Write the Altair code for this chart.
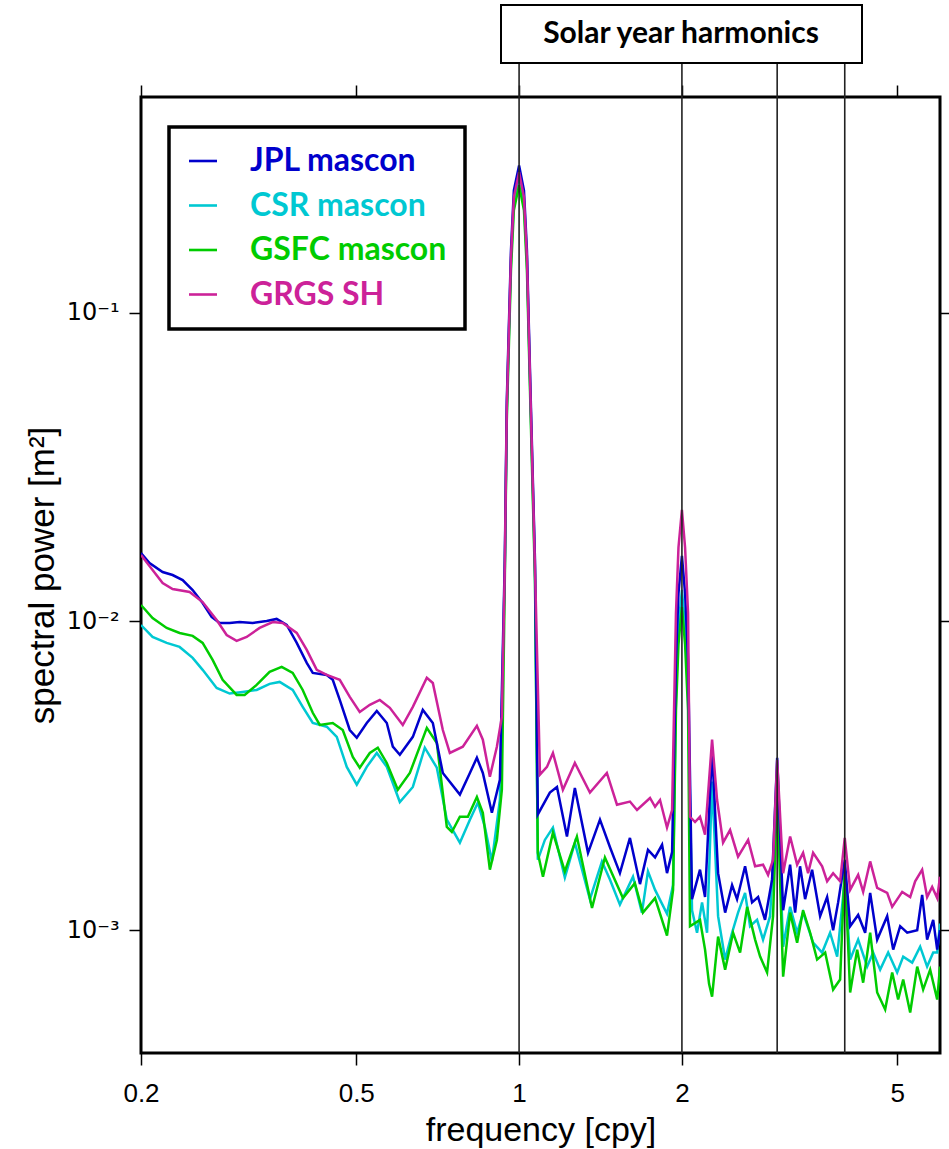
import altair as alt
import pandas as pd

# ---------------- data ----------------
jpl_freq = [0.200, 0.2074, 0.2193, 0.2288, 0.2388, 0.2492, 0.2600, 0.2701, 0.2795, 0.2917,
            0.3043, 0.3217, 0.3415, 0.3563, 0.3719, 0.3881, 0.4050, 0.4155, 0.4410, 0.4524,
            0.4661, 0.4864, 0.5011, 0.5229, 0.5457, 0.5694, 0.5842, 0.6019, 0.6362, 0.6637,
            0.6927, 0.7228, 0.7772, 0.8111, 0.8356, 0.8570, 0.8907, 0.9215,
            0.941, 0.949, 0.966, 0.978, 1.0, 1.021, 1.034, 1.051, 1.070,
            1.083, 1.140, 1.175, 1.226, 1.268, 1.341, 1.411, 1.472, 1.536, 1.603,
            1.673, 1.731, 1.784, 1.838, 1.877, 1.918,
            1.950, 1.971, 2.0, 2.027, 2.053,
            2.088, 2.160, 2.207, 2.274, 2.333, 2.404, 2.476, 2.529, 2.617, 2.696,
            2.766, 2.849, 2.936, 3.0, 3.077, 3.170, 3.238, 3.307, 3.379, 3.481,
            3.602, 3.711, 3.807, 3.889, 4.0, 4.093, 4.235, 4.363, 4.457, 4.592,
            4.792, 4.916, 5.064, 5.218, 5.445, 5.561, 5.680, 5.829, 5.929, 6.0]
jpl_power = [0.01666, 0.01546, 0.01446, 0.01414, 0.01362, 0.01264, 0.01148, 0.01034, 0.00989, 0.00989,
             0.00996, 0.00989, 0.01004, 0.01019, 0.00974, 0.00852, 0.00734, 0.00681, 0.00671, 0.00647,
             0.00557, 0.00445, 0.00420, 0.00469, 0.00513, 0.00469, 0.00393, 0.00370, 0.00423, 0.00517,
             0.00469, 0.00323, 0.00275, 0.00323, 0.00362, 0.00323, 0.00240, 0.00307,
             0.0158, 0.052, 0.159, 0.249, 0.300, 0.249, 0.159, 0.052, 0.0158,
             0.00237, 0.00279, 0.00291, 0.00201, 0.00289, 0.00178, 0.00228, 0.00186, 0.00153, 0.00199,
             0.00141, 0.00182, 0.00172, 0.00189, 0.00153, 0.00179,
             0.00755, 0.01236, 0.0163, 0.01236, 0.00755,
             0.00126, 0.00157, 0.00128, 0.00384, 0.00153, 0.00114, 0.00140, 0.00126, 0.00161, 0.00123,
             0.00128, 0.00108, 0.00146, 0.00362, 0.00116, 0.00163, 0.00114, 0.00161, 0.00126, 0.00157,
             0.00111, 0.00128, 0.00100, 0.00123, 0.00169, 0.00103, 0.00112, 0.000981, 0.00132, 0.000932,
             0.00111, 0.000865, 0.00103, 0.000981, 0.00100, 0.00130, 0.000932, 0.00108, 0.000865, 0.00100]

csr_freq = [0.200, 0.2101, 0.2231, 0.2357, 0.2492, 0.2600, 0.2760, 0.2917, 0.3083, 0.3272,
            0.3458, 0.3609, 0.3815, 0.3981, 0.4155, 0.4410, 0.4602, 0.4802, 0.5011, 0.5229,
            0.5457, 0.5694, 0.6019, 0.6362, 0.6694, 0.7046, 0.7352, 0.7772, 0.8111, 0.8392,
            0.8644, 0.8907, 0.9215,
            0.941, 0.949, 0.966, 0.978, 1.0, 1.021, 1.034, 1.051, 1.070,
            1.083, 1.116, 1.155, 1.215, 1.268, 1.352, 1.423, 1.472, 1.536, 1.624,
            1.687, 1.731, 1.784, 1.877, 1.926,
            1.950, 1.971, 2.0, 2.027, 2.053,
            2.088, 2.133, 2.179, 2.226, 2.274, 2.333, 2.404, 2.476, 2.540, 2.617,
            2.673, 2.754, 2.825, 2.911, 3.0, 3.077, 3.170, 3.266, 3.350, 3.496,
            3.633, 3.758, 3.873, 4.0, 4.093, 4.235, 4.401, 4.514, 4.651, 4.812,
            5.0, 5.130, 5.330, 5.514, 5.680, 5.829, 5.929, 6.0]
csr_power = [0.00974, 0.00891, 0.00852, 0.00827, 0.00762, 0.00697, 0.00609, 0.00584, 0.00591, 0.00600,
             0.00628, 0.00637, 0.00600, 0.00529, 0.00469, 0.00456, 0.00423, 0.00338, 0.00296, 0.00338,
             0.00375, 0.00338, 0.00260, 0.00291, 0.00390, 0.00336, 0.00228, 0.00192, 0.00228, 0.00259,
             0.00216, 0.00167, 0.00264,
             0.0146, 0.0479, 0.147, 0.230, 0.2765, 0.230, 0.147, 0.0479, 0.0146,
             0.00169, 0.00196, 0.00215, 0.00148, 0.00192, 0.00126, 0.00167, 0.00146, 0.00121, 0.00149,
             0.00114, 0.00155, 0.00135, 0.00113, 0.00140,
             0.00586, 0.00959, 0.01265, 0.00959, 0.00586,
             0.00116, 0.000981, 0.00123, 0.000981, 0.00303, 0.00111, 0.000803, 0.000981, 0.00114, 0.00132,
             0.00103, 0.00108, 0.000932, 0.00111, 0.00291, 0.000884, 0.00119, 0.000981, 0.00114, 0.000911,
             0.000846, 0.000981, 0.000821, 0.00146, 0.000803, 0.000932, 0.000762, 0.000846, 0.000745, 0.000846,
             0.000729, 0.000821, 0.000785, 0.000884, 0.000762, 0.000846, 0.000846, 0.00105]

gsfc_freq = [0.200, 0.2101, 0.2231, 0.2357, 0.2492, 0.2600, 0.2713, 0.2831, 0.3005, 0.3109,
             0.3272, 0.3458, 0.3640, 0.3815, 0.3981, 0.4155, 0.4281, 0.4524, 0.4721, 0.4927,
             0.5075, 0.5297, 0.5480, 0.5694, 0.5968, 0.6281, 0.6752, 0.7046, 0.7352, 0.7511,
             0.7772, 0.8041, 0.8356, 0.8570, 0.8831, 0.9098, 0.9293,
             0.941, 0.949, 0.966, 0.978, 1.0, 1.021, 1.034, 1.051, 1.070,
             1.083, 1.107, 1.155, 1.215, 1.279, 1.364, 1.441, 1.556, 1.637, 1.694,
             1.784, 1.877, 1.926,
             1.950, 1.971, 2.0, 2.027, 2.053,
             2.070, 2.160, 2.207, 2.245, 2.274, 2.333, 2.404, 2.487, 2.562, 2.640,
             2.731, 2.790, 2.874, 2.948, 3.0, 3.077, 3.170, 3.266, 3.350, 3.452,
             3.556, 3.680, 3.807, 3.922, 4.0, 4.093, 4.217, 4.326, 4.457, 4.592,
             4.751, 4.895, 5.021, 5.130, 5.285, 5.445, 5.585, 5.754, 5.929, 6.0]
gsfc_power = [0.01131, 0.01026, 0.00953, 0.00918, 0.00898, 0.00852, 0.00751, 0.00647, 0.00578, 0.00578,
              0.00623, 0.00687, 0.00713, 0.00681, 0.00600, 0.00506, 0.00462, 0.00469, 0.00445, 0.00364,
              0.00336, 0.00375, 0.00390, 0.00348, 0.00285, 0.00323, 0.00452, 0.00404, 0.00216, 0.00208,
              0.00233, 0.00233, 0.00270, 0.00240, 0.00157, 0.00196, 0.00285,
              0.0136, 0.0448, 0.137, 0.215, 0.259, 0.215, 0.137, 0.0448, 0.0136,
              0.00178, 0.00149, 0.00207, 0.00155, 0.00201, 0.00118, 0.00172, 0.00127, 0.00142, 0.00114,
              0.00127, 0.000960, 0.00135,
              0.00516, 0.00845, 0.01114, 0.00845, 0.00516,
              0.00103, 0.00108, 0.000865, 0.000670, 0.000609, 0.000953, 0.000745, 0.000981, 0.000846, 0.00119,
              0.000932, 0.000821, 0.000729, 0.00111, 0.00289, 0.000707, 0.00114, 0.000911, 0.00116, 0.000981,
              0.000803, 0.000846, 0.000642, 0.000692, 0.00161, 0.000628, 0.000865, 0.000676, 0.000981, 0.000628,
              0.000553, 0.000729, 0.000596, 0.000692, 0.000541, 0.000762, 0.000642, 0.000745, 0.000596, 0.000762]

grgs_freq = [0.200, 0.2101, 0.2193, 0.2288, 0.2460, 0.2600, 0.2760, 0.2880, 0.3005, 0.3136,
             0.3314, 0.3503, 0.3656, 0.3881, 0.4050, 0.4226, 0.4410, 0.4661, 0.4864, 0.5075,
             0.5297, 0.5527, 0.5768, 0.6095, 0.6362, 0.6752, 0.6927, 0.7228, 0.7447, 0.7870,
             0.8356, 0.8570, 0.8831, 0.9098, 0.9293,
             0.941, 0.949, 0.966, 0.978, 1.0, 1.021, 1.034, 1.051, 1.070,
             1.093, 1.126, 1.155, 1.205, 1.268, 1.352, 1.453, 1.517, 1.603, 1.652,
             1.746, 1.784, 1.822, 1.877, 1.918,
             1.950, 1.971, 2.0, 2.027, 2.053,
             2.070, 2.115, 2.160, 2.207, 2.274, 2.323, 2.383, 2.455, 2.540, 2.651,
             2.731, 2.825, 2.886, 2.948, 3.0, 3.077, 3.170, 3.266, 3.350, 3.422,
             3.496, 3.633, 3.711, 3.807, 3.922, 4.0, 4.093, 4.235, 4.326, 4.457,
             4.592, 4.792, 4.895, 5.108, 5.285, 5.398, 5.561, 5.680, 5.803, 5.929, 6.0]
grgs_power = [0.01641, 0.01468, 0.01332, 0.01274, 0.01246, 0.01156, 0.01011, 0.00904, 0.00865, 0.00891,
              0.00953, 0.00996, 0.00989, 0.00918, 0.00809, 0.00697, 0.00671, 0.00647, 0.00570, 0.00509,
              0.00537, 0.00557, 0.00525, 0.00462, 0.00529, 0.00657, 0.00632, 0.00445, 0.00375, 0.00393,
              0.00459, 0.00414, 0.00314, 0.00393, 0.00491,
              0.0150, 0.0494, 0.151, 0.237, 0.285, 0.237, 0.151, 0.0494, 0.0150,
              0.00319, 0.00338, 0.00375, 0.00285, 0.00348, 0.00279, 0.00323, 0.00255, 0.00261, 0.00245,
              0.00268, 0.00251, 0.00264, 0.00215, 0.00245,
              0.01064, 0.0174, 0.0230, 0.0174, 0.01064,
              0.00233, 0.00224, 0.00233, 0.00204, 0.00414, 0.00264, 0.00192, 0.00211, 0.00173, 0.00196,
              0.00161, 0.00163, 0.00151, 0.00169, 0.00356, 0.00153, 0.00201, 0.00163, 0.00178, 0.00153,
              0.00178, 0.00161, 0.00144, 0.00153, 0.00144, 0.00199, 0.00135, 0.00151, 0.00133, 0.00167,
              0.00137, 0.00132, 0.00119, 0.00133, 0.00128, 0.00144, 0.00157, 0.00128, 0.00138, 0.00127, 0.00149]

series_names = ["JPL mascon", "CSR mascon", "GSFC mascon", "GRGS SH"]
series_colors = ["#0000CC", "#00C8D2", "#00CC00", "#CC2299"]

x_tick_values = [0.2, 0.5, 1, 2, 5]
y_tick_values = [0.001, 0.01, 0.1]
y_tick_labels = ["10\u207b\u00b3", "10\u207b\u00b2", "10\u207b\u00b9"]
harmonics = [1, 2, 3, 4]
annotation_text = "Solar year harmonics"

# ---------------- table ----------------
rows = []
for name, fr, pw in [("CSR mascon", csr_freq, csr_power),
                     ("GSFC mascon", gsfc_freq, gsfc_power),
                     ("JPL mascon", jpl_freq, jpl_power),
                     ("GRGS SH", grgs_freq, grgs_power)]:
    assert len(fr) == len(pw), name
    for f, p in zip(fr, pw):
        rows.append({"series": name, "freq": f, "power": p})
df = pd.DataFrame(rows)

y_label_expr = ""
for v, lab in zip(y_tick_values, y_tick_labels):
    y_label_expr += f"abs(datum.value - {v}) < {v / 10} ? '{lab}' : "
y_label_expr += "''"

color_expr = ""
for n, c in zip(series_names, series_colors):
    color_expr += f"datum.value == '{n}' ? '{c}' : "
color_expr += "'black'"

W, H = 799, 956
FONT = "Liberation Sans"

xscale = alt.Scale(type="log", domain=[0.2, 6], nice=False)
yscale = alt.Scale(type="log", domain=[4e-4, 0.5], nice=False)

tick_common = dict(tickSize=12, tickWidth=1.5, tickColor="black", domain=False, grid=False)

lines = alt.Chart(df).mark_line(strokeWidth=2.5, clip=True).encode(
    x=alt.X("freq:Q", scale=xscale,
            axis=alt.Axis(orient="bottom", values=x_tick_values, format="~g",
                          labelFont=FONT, labelFontSize=26, labelColor="black", labelPadding=15,
                          labelFlush=False,
                          title="frequency [cpy]", titleFont=FONT, titleFontSize=34,
                          titleFontWeight="normal", titleColor="black",
                          titleBaseline="alphabetic", titleY=87, **tick_common)),
    y=alt.Y("power:Q", scale=yscale,
            axis=alt.Axis(orient="left", values=y_tick_values, labelExpr=y_label_expr,
                          labelFont="DejaVu Sans", labelFontSize=24, labelColor="black", labelPadding=10,
                          labelFlush=False,
                          title="spectral power [m\u00b2]", titleFont=FONT, titleFontSize=35,
                          titleFontWeight="normal", titleColor="black",
                          titleBaseline="alphabetic", titleX=-88, **tick_common)),
    color=alt.Color("series:N",
                    scale=alt.Scale(domain=series_names, range=series_colors),
                    legend=alt.Legend(orient="none", legendX=28, legendY=30, title=None,
                                      fillColor="white", strokeColor="black", padding=18,
                                      symbolType="stroke", symbolSize=784, symbolStrokeWidth=2.6,
                                      labelFont="Lato", labelFontSize=32, labelFontWeight="bold",
                                      labelOffset=31, labelLimit=400, rowPadding=12.5,
                                      labelColor=alt.ExprRef(expr=color_expr))),
)

mirror = alt.Chart(df).mark_point(opacity=0).encode(
    x=alt.X("freq:Q", scale=xscale,
            axis=alt.Axis(orient="top", values=x_tick_values, labels=False, title=None, **tick_common)),
    y=alt.Y("power:Q", scale=yscale,
            axis=alt.Axis(orient="right", values=y_tick_values, labels=False, title=None, **tick_common)),
)

rules = alt.Chart(pd.DataFrame({"harmonic": harmonics})).mark_rule(
    color="#222222", strokeWidth=1.6, clip=False
).encode(
    x=alt.X("harmonic:Q", scale=xscale, axis=None),
    y=alt.value(-34), y2=alt.value(H),
)

box = alt.Chart(pd.DataFrame({"label": [annotation_text]})).mark_rect(
    fill="white", stroke="black", strokeWidth=2, clip=False
).encode(x=alt.value(360), x2=alt.value(721), y=alt.value(-92), y2=alt.value(-34))

box_text = alt.Chart(pd.DataFrame({"label": [annotation_text]})).mark_text(
    font="Lato", fontWeight="bold", fontSize=30, align="center", baseline="middle",
    color="black", clip=False
).encode(x=alt.value(540), y=alt.value(-63), text="label:N")

chart = alt.layer(lines, mirror, rules, box, box_text).properties(
    width=W, height=H,
    autosize=alt.AutoSizeParams(type="none"),
    padding={"left": 141, "top": 97, "right": 9, "bottom": 96},
    background="white",
).configure_view(stroke="black", strokeWidth=3).configure_legend(strokeWidth=3.5)

chart.save("out.html", embed_options={"renderer": "svg", "actions": False})
